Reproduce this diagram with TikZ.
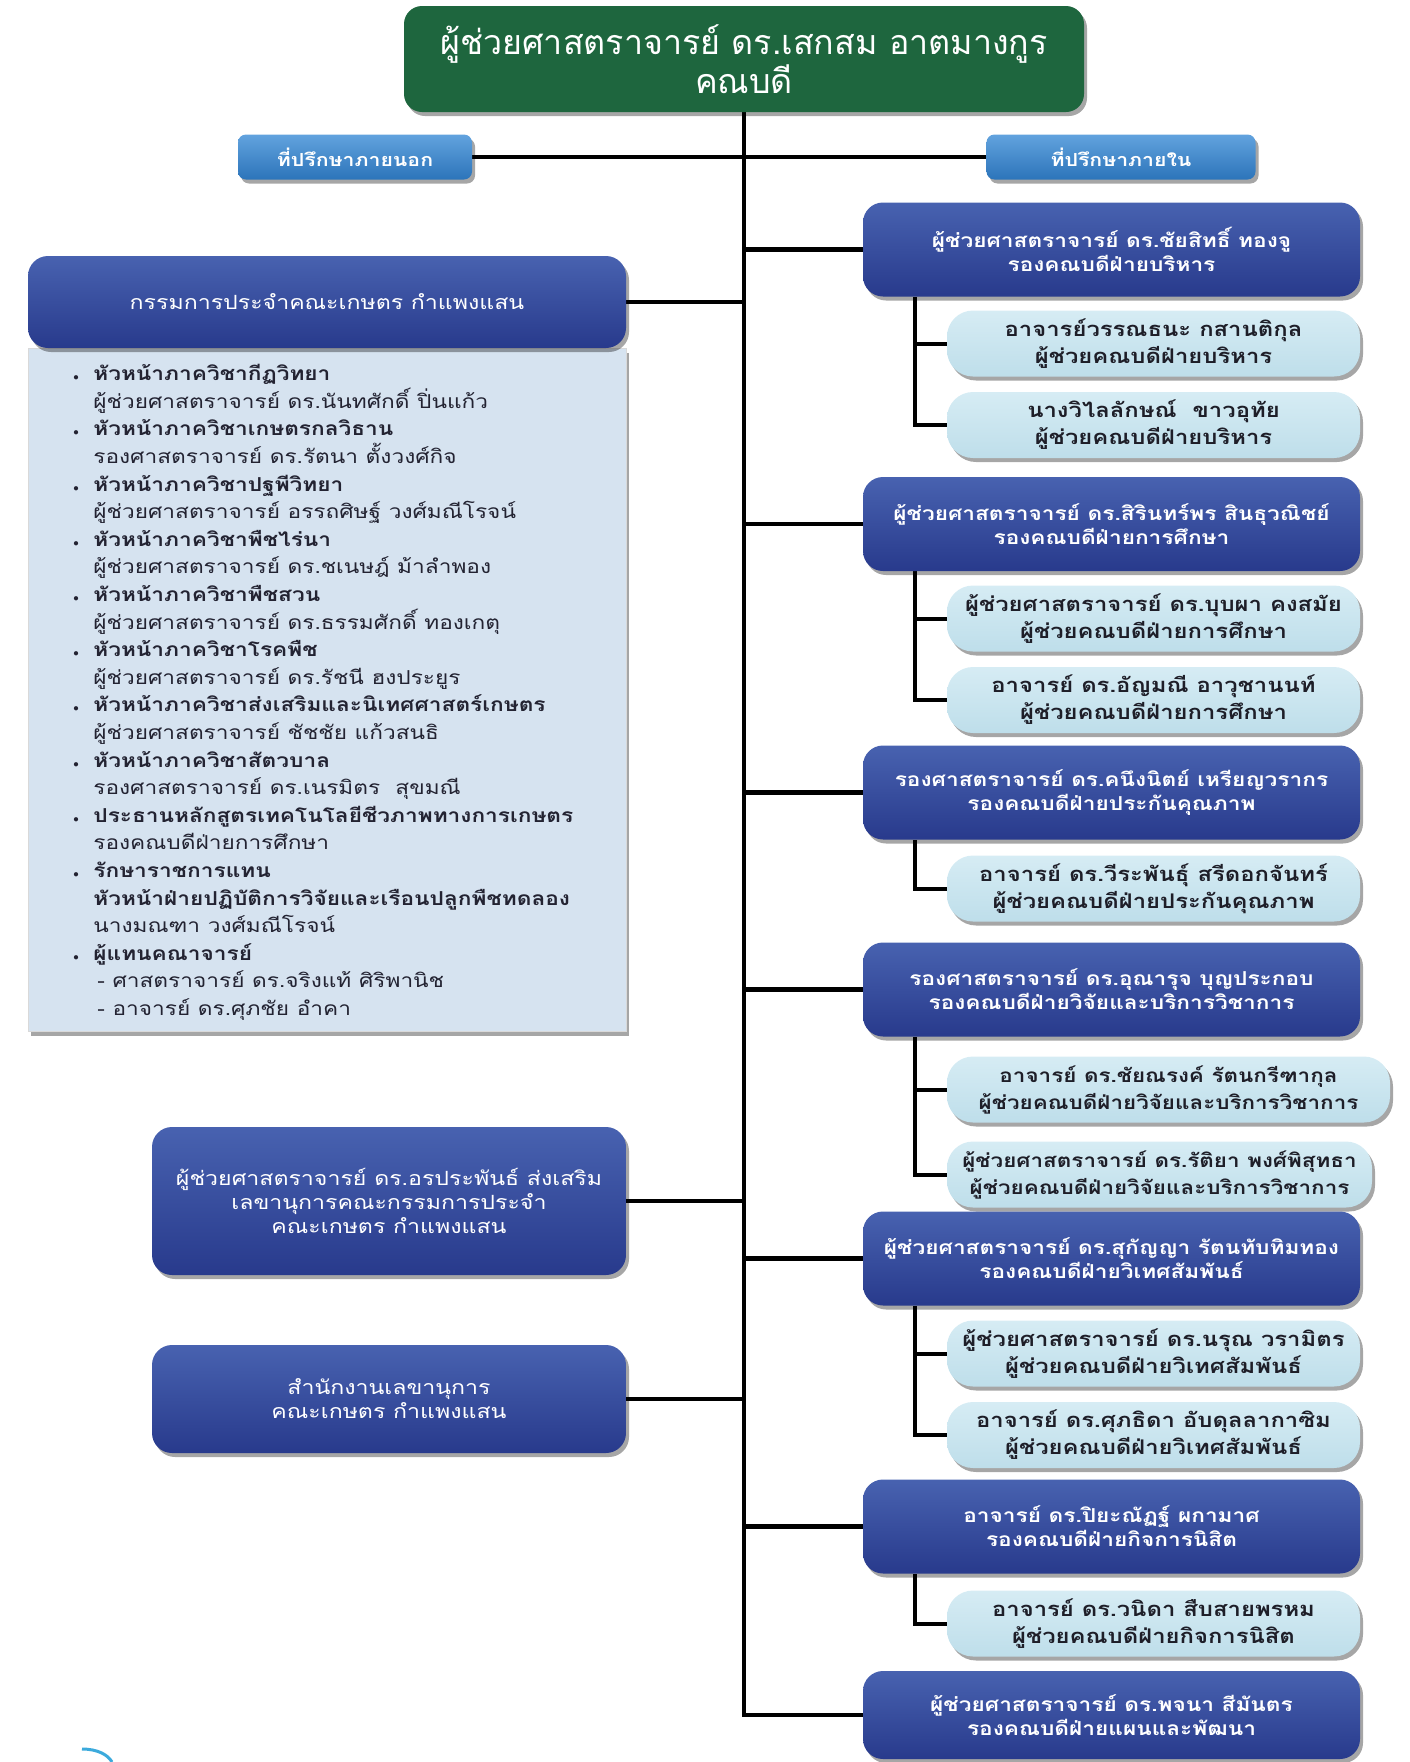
\documentclass[tikz,border=0pt]{standalone}
\usepackage{fontspec}
\usepackage{graphicx}
\setmainfont{Loma}[Script=Thai, FakeStretch=1.18]
\newfontfamily\deanfont{Loma}[Script=Thai]
\usetikzlibrary{shadows,backgrounds}
\definecolor{deangreen}{RGB}{30,102,62}
\definecolor{advtop}{RGB}{98,163,222}
\definecolor{advbot}{RGB}{44,116,186}
\definecolor{vicetop}{RGB}{72,98,176}
\definecolor{vicebot}{RGB}{40,58,140}
\definecolor{assttop}{RGB}{214,236,244}
\definecolor{asstbot}{RGB}{190,222,234}
\definecolor{asstink}{RGB}{30,30,40}
\definecolor{panelfill}{RGB}{214,227,240}
\definecolor{listink}{RGB}{35,35,50}
\definecolor{cornerarc}{RGB}{60,170,220}
\newcommand\blt{\makebox[10pt][l]{\scalebox{0.55}{$\bullet$}}}
\begin{document}
\begin{tikzpicture}[x=0.5pt, y=-0.5pt,
    box shadow/.style={drop shadow={shadow xshift=1.5pt, shadow yshift=-2pt, opacity=0.35, fill=black}},
    dean node/.style={rectangle, rounded corners=9pt, fill=deangreen, text=white, minimum width=340pt, minimum height=53pt, align=center, font=\deanfont\fontsize{17}{19.5}\selectfont, box shadow},
    advisor node/.style={rectangle, rounded corners=4pt, top color=advtop, bottom color=advbot, text=white, minimum height=22.5pt, font=\bfseries\fontsize{9}{10}\selectfont, box shadow},
    vice node/.style={rectangle, rounded corners=10pt, top color=vicetop, bottom color=vicebot, text=white, minimum width=248.5pt, minimum height=47pt, align=center, font=\bfseries\fontsize{9.6}{12}\selectfont, box shadow},
    left node/.style={vice node, minimum width=237pt, font=\fontsize{9.8}{12}\selectfont},
    asst node/.style={rectangle, rounded corners=13pt, top color=assttop, bottom color=asstbot, text=asstink, minimum width=206.5pt, minimum height=33pt, align=center, font=\bfseries\fontsize{10.1}{13.5}\selectfont, box shadow},
    panel node/.style={rectangle, fill=panelfill, draw=black!15, minimum width=299pt, box shadow},
    link/.style={line width=2.2pt, black}]
\useasboundingbox (0,0) rectangle (1409,1762);

% dean and advisors
\node[dean node] (1) at (744,59) {ผู้ช่วยศาสตราจารย์ ดร.เสกสม อาตมางกูร\\คณบดี};
\node[advisor node, minimum width=117pt] (2) at (355,157) {ที่ปรึกษาภายนอก};
\node[advisor node, minimum width=134.5pt] (3) at (1121,157) {ที่ปรึกษาภายใน};

% left column
\node[panel node, minimum height=341.5pt] (5) at (327,690) {};
\node[left node, minimum width=299pt, minimum height=46pt] (4) at (327,302) {กรรมการประจำคณะเกษตร กำแพงแสน};
\node[anchor=north west, align=left, inner sep=0pt, text=listink, font=\fontsize{9.6}{13.8}\selectfont] (6) at (73,364) {%
\blt{\bfseries หัวหน้าภาควิชากีฏวิทยา}\\
\hspace*{10pt}ผู้ช่วยศาสตราจารย์ ดร.นันทศักดิ์ ปิ่นแก้ว\\
\blt{\bfseries หัวหน้าภาควิชาเกษตรกลวิธาน}\\
\hspace*{10pt}รองศาสตราจารย์ ดร.รัตนา ตั้งวงศ์กิจ\\
\blt{\bfseries หัวหน้าภาควิชาปฐพีวิทยา}\\
\hspace*{10pt}ผู้ช่วยศาสตราจารย์ อรรถศิษฐ์ วงศ์มณีโรจน์\\
\blt{\bfseries หัวหน้าภาควิชาพืชไร่นา}\\
\hspace*{10pt}ผู้ช่วยศาสตราจารย์ ดร.ชเนษฎ์ ม้าลำพอง\\
\blt{\bfseries หัวหน้าภาควิชาพืชสวน}\\
\hspace*{10pt}ผู้ช่วยศาสตราจารย์ ดร.ธรรมศักดิ์ ทองเกตุ\\
\blt{\bfseries หัวหน้าภาควิชาโรคพืช}\\
\hspace*{10pt}ผู้ช่วยศาสตราจารย์ ดร.รัชนี ฮงประยูร\\
\blt{\bfseries หัวหน้าภาควิชาส่งเสริมและนิเทศศาสตร์เกษตร}\\
\hspace*{10pt}ผู้ช่วยศาสตราจารย์ ชัชชัย แก้วสนธิ\\
\blt{\bfseries หัวหน้าภาควิชาสัตวบาล}\\
\hspace*{10pt}รองศาสตราจารย์ ดร.เนรมิตร\ \ สุขมณี\\
\blt{\bfseries ประธานหลักสูตรเทคโนโลยีชีวภาพทางการเกษตร}\\
\hspace*{10pt}รองคณบดีฝ่ายการศึกษา\\
\blt{\bfseries รักษาราชการแทน}\\
\hspace*{10pt}{\bfseries หัวหน้าฝ่ายปฏิบัติการวิจัยและเรือนปลูกพืชทดลอง}\\
\hspace*{10pt}นางมณฑา วงศ์มณีโรจน์\\
\blt{\bfseries ผู้แทนคณาจารย์}\\
\hspace*{12pt}- ศาสตราจารย์ ดร.จริงแท้ ศิริพานิช\\
\hspace*{12pt}- อาจารย์ ดร.ศุภชัย อำคา};
\node[left node, minimum height=74pt] (7) at (389,1201) {ผู้ช่วยศาสตราจารย์ ดร.อรประพันธ์ ส่งเสริม\\เลขานุการคณะกรรมการประจำ\\คณะเกษตร กำแพงแสน};
\node[left node, minimum height=54pt] (8) at (389,1399) {สำนักงานเลขานุการ\\คณะเกษตร กำแพงแสน};

% right column
\node[vice node] (9) at (1111.5,249.5) {ผู้ช่วยศาสตราจารย์ ดร.ชัยสิทธิ์ ทองจู\\รองคณบดีฝ่ายบริหาร};
\node[asst node] (10) at (1153.5,343.5) {อาจารย์วรรณธนะ กสานติกุล\\ผู้ช่วยคณบดีฝ่ายบริหาร};
\node[asst node] (11) at (1153.5,425) {นางวิไลลักษณ์\ \ ขาวอุทัย\\ผู้ช่วยคณบดีฝ่ายบริหาร};
\node[vice node] (12) at (1111.5,524) {ผู้ช่วยศาสตราจารย์ ดร.สิรินทร์พร สินธุวณิชย์\\รองคณบดีฝ่ายการศึกษา};
\node[asst node] (13) at (1153.5,618.5) {ผู้ช่วยศาสตราจารย์ ดร.บุบผา คงสมัย\\ผู้ช่วยคณบดีฝ่ายการศึกษา};
\node[asst node] (14) at (1153.5,700) {อาจารย์ ดร.อัญมณี อาวุชานนท์\\ผู้ช่วยคณบดีฝ่ายการศึกษา};
\node[vice node] (15) at (1111.5,792.5) {รองศาสตราจารย์ ดร.คนึงนิตย์ เหรียญวรากร\\รองคณบดีฝ่ายประกันคุณภาพ};
\node[asst node] (16) at (1153.5,888.5) {อาจารย์ ดร.วีระพันธุ์ สรีดอกจันทร์\\ผู้ช่วยคณบดีฝ่ายประกันคุณภาพ};
\node[vice node] (17) at (1111.5,989.5) {รองศาสตราจารย์ ดร.อุณารุจ บุญประกอบ\\รองคณบดีฝ่ายวิจัยและบริการวิชาการ};
\node[asst node, minimum width=221.5pt, font=\bfseries\fontsize{9.5}{13.5}\selectfont] (18) at (1168.5,1089.5) {อาจารย์ ดร.ชัยณรงค์ รัตนกรีฑากุล\\ผู้ช่วยคณบดีฝ่ายวิจัยและบริการวิชาการ};
\node[asst node, minimum width=212.5pt, font=\bfseries\fontsize{9.5}{13.5}\selectfont] (19) at (1159.5,1174.5) {ผู้ช่วยศาสตราจารย์ ดร.รัติยา พงศ์พิสุทธา\\ผู้ช่วยคณบดีฝ่ายวิจัยและบริการวิชาการ};
\node[vice node] (20) at (1111.5,1258.5) {ผู้ช่วยศาสตราจารย์ ดร.สุกัญญา รัตนทับทิมทอง\\รองคณบดีฝ่ายวิเทศสัมพันธ์};
\node[asst node] (21) at (1153.5,1353.5) {ผู้ช่วยศาสตราจารย์ ดร.นรุณ วรามิตร\\ผู้ช่วยคณบดีฝ่ายวิเทศสัมพันธ์};
\node[asst node] (22) at (1153.5,1435) {อาจารย์ ดร.ศุภธิดา อับดุลลากาซิม\\ผู้ช่วยคณบดีฝ่ายวิเทศสัมพันธ์};
\node[vice node] (23) at (1111.5,1526.5) {อาจารย์ ดร.ปิยะณัฏฐ์ ผกามาศ\\รองคณบดีฝ่ายกิจการนิสิต};
\node[asst node] (24) at (1153.5,1623.5) {อาจารย์ ดร.วนิดา สืบสายพรหม\\ผู้ช่วยคณบดีฝ่ายกิจการนิสิต};
\node[vice node, minimum height=44pt] (25) at (1111.5,1715) {ผู้ช่วยศาสตราจารย์ ดร.พจนา สีมันตร\\รองคณบดีฝ่ายแผนและพัฒนา};

% connectors
\begin{scope}[on background layer]
\path (2) edge[link] (3);
\draw[link] (1.south) |- (25.west);
\foreach \n in {4,7,8} \draw[link] (1.south) |- (\n.east);
\foreach \n in {9,12,15,17,20,23} \draw[link] (1.south) |- (\n.west);
\foreach \v/\a in {9/10,9/11,12/13,12/14,15/16,17/18,17/19,20/21,20/22,23/24}
  \draw[link, line width=2pt] ([xshift=26pt]\v.south west) |- (\a.west);
\end{scope}

% corner mark
\draw[cornerarc, line width=1.5pt] (82,1749) .. controls (98,1749) and (108,1755) .. (112,1762);
\end{tikzpicture}
\end{document}
